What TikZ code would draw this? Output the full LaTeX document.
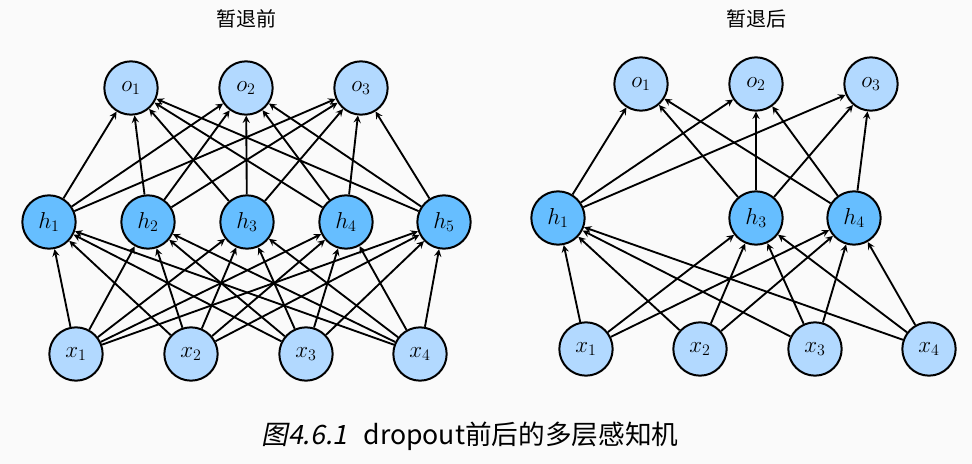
\documentclass[tikz,border=0pt]{standalone}
\usepackage{fontspec}
\newfontfamily\cjk{Noto Sans CJK SC}
\newfontfamily\cjkit[FakeSlant=0.2]{Noto Sans CJK SC}
\usetikzlibrary{arrows}

\definecolor{lightnode}{RGB}{178,217,255}
\definecolor{darknode}{RGB}{102,190,255}
\definecolor{bgcol}{RGB}{250,250,250}

\begin{document}
\begin{tikzpicture}[
    x=0.75pt, y=-0.75pt,
    unit/.style={circle, draw, line width=1.5pt, minimum size=40pt, inner sep=0pt, font=\fontsize{17}{20}\selectfont},
    inbox/.style={unit, fill=lightnode},
    hidbox/.style={unit, fill=darknode},
    title/.style={font=\cjk\fontsize{15}{18}\selectfont},
    arrow/.style={->, >={stealth[scale=1.25]}, line width=1.4pt}
]

% Background
\fill[bgcol] (0,0) rectangle (972,464);
\useasboundingbox (0,0) rectangle (972,464);

% Titles
\node[title] (tleft) at (246,19) {暂退前};
\node[title] (tright) at (756,19) {暂退后};

% Left: outputs
\node[inbox] (lo1) at (131,88) {$o_1$};
\node[inbox] (lo2) at (246,88) {$o_2$};
\node[inbox] (lo3) at (361,88) {$o_3$};

% Left: hidden
\node[hidbox] (lh1) at (49,222) {$h_1$};
\node[hidbox] (lh2) at (148,222) {$h_2$};
\node[hidbox] (lh3) at (247,222) {$h_3$};
\node[hidbox] (lh4) at (346,222) {$h_4$};
\node[hidbox] (lh5) at (444,222) {$h_5$};

% Left: inputs
\node[inbox] (lx1) at (76,354) {$x_1$};
\node[inbox] (lx2) at (191,354) {$x_2$};
\node[inbox] (lx3) at (306,354) {$x_3$};
\node[inbox] (lx4) at (420,354) {$x_4$};

% Right: outputs
\node[inbox] (ro1) at (641,84) {$o_1$};
\node[inbox] (ro2) at (756,84) {$o_2$};
\node[inbox] (ro3) at (871,84) {$o_3$};

% Right: hidden (h2, h5 dropped)
\node[hidbox] (rh1) at (558,218) {$h_1$};
\node[hidbox] (rh3) at (756,218) {$h_3$};
\node[hidbox] (rh4) at (854,218) {$h_4$};

% Right: inputs
\node[inbox] (rx1) at (586,349) {$x_1$};
\node[inbox] (rx2) at (700,349) {$x_2$};
\node[inbox] (rx3) at (815,349) {$x_3$};
\node[inbox] (rx4) at (929,349) {$x_4$};

% Caption
\node[font=\fontsize{20}{24}\selectfont] (caption) at (470,436) {{\cjkit 图4.6.1}\ \ {\cjk dropout前后的多层感知机}};

% Left arrows: inputs to hidden
\draw[arrow] (lx1) -- (lh1);
\draw[arrow] (lx1) -- (lh2);
\draw[arrow] (lx1) -- (lh3);
\draw[arrow] (lx1) -- (lh4);
\draw[arrow] (lx1) -- (lh5);
\draw[arrow] (lx2) -- (lh1);
\draw[arrow] (lx2) -- (lh2);
\draw[arrow] (lx2) -- (lh3);
\draw[arrow] (lx2) -- (lh4);
\draw[arrow] (lx2) -- (lh5);
\draw[arrow] (lx3) -- (lh1);
\draw[arrow] (lx3) -- (lh2);
\draw[arrow] (lx3) -- (lh3);
\draw[arrow] (lx3) -- (lh4);
\draw[arrow] (lx3) -- (lh5);
\draw[arrow] (lx4) -- (lh1);
\draw[arrow] (lx4) -- (lh2);
\draw[arrow] (lx4) -- (lh3);
\draw[arrow] (lx4) -- (lh4);
\draw[arrow] (lx4) -- (lh5);

% Left arrows: hidden to outputs
\draw[arrow] (lh1) -- (lo1);
\draw[arrow] (lh1) -- (lo2);
\draw[arrow] (lh1) -- (lo3);
\draw[arrow] (lh2) -- (lo1);
\draw[arrow] (lh2) -- (lo2);
\draw[arrow] (lh2) -- (lo3);
\draw[arrow] (lh3) -- (lo1);
\draw[arrow] (lh3) -- (lo2);
\draw[arrow] (lh3) -- (lo3);
\draw[arrow] (lh4) -- (lo1);
\draw[arrow] (lh4) -- (lo2);
\draw[arrow] (lh4) -- (lo3);
\draw[arrow] (lh5) -- (lo1);
\draw[arrow] (lh5) -- (lo2);
\draw[arrow] (lh5) -- (lo3);

% Right arrows: inputs to hidden
\draw[arrow] (rx1) -- (rh1);
\draw[arrow] (rx1) -- (rh3);
\draw[arrow] (rx1) -- (rh4);
\draw[arrow] (rx2) -- (rh1);
\draw[arrow] (rx2) -- (rh3);
\draw[arrow] (rx2) -- (rh4);
\draw[arrow] (rx3) -- (rh1);
\draw[arrow] (rx3) -- (rh3);
\draw[arrow] (rx3) -- (rh4);
\draw[arrow] (rx4) -- (rh1);
\draw[arrow] (rx4) -- (rh3);
\draw[arrow] (rx4) -- (rh4);

% Right arrows: hidden to outputs
\draw[arrow] (rh1) -- (ro1);
\draw[arrow] (rh1) -- (ro2);
\draw[arrow] (rh1) -- (ro3);
\draw[arrow] (rh3) -- (ro1);
\draw[arrow] (rh3) -- (ro2);
\draw[arrow] (rh3) -- (ro3);
\draw[arrow] (rh4) -- (ro1);
\draw[arrow] (rh4) -- (ro2);
\draw[arrow] (rh4) -- (ro3);

\end{tikzpicture}
\end{document}
